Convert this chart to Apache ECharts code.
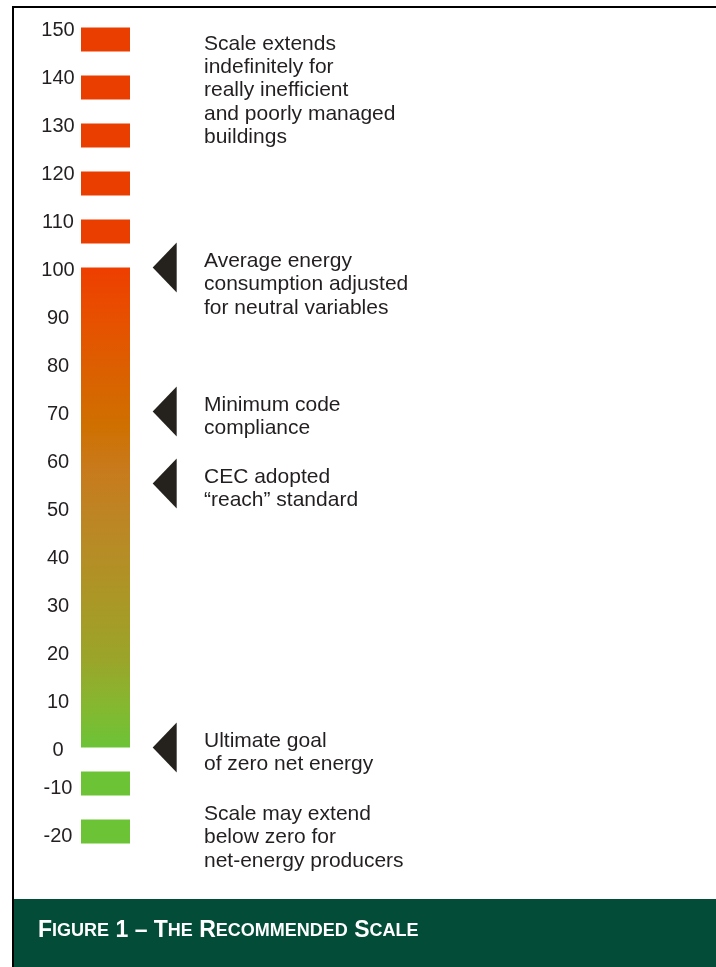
<!DOCTYPE html>
<html>
<head>
<meta charset="utf-8">
<script src="https://cdn.jsdelivr.net/npm/echarts@6/dist/echarts.min.js"></script>
<style>
html,body{margin:0;padding:0;background:#fff;}
#chart{width:716px;height:967px;}
</style>
</head>
<body>
<div id="chart"></div>
<script>
// ---- data ----
const tickValues = [150, 140, 130, 120, 110, 100, 90, 80, 70, 60, 50, 40, 30, 20, 10, 0, -10, -20];
const segmentHigh = [150, 140, 130, 120, 110, 100, -5, -15];
const segmentLow  = [145, 135, 125, 115, 105, 0, -10, -20];
const markerValues = [100, 70, 55, 0];
const markerNotes = [
  "Average energy\nconsumption adjusted\nfor neutral variables",
  "Minimum code\ncompliance",
  "CEC adopted\n\u201creach\u201d standard",
  "Ultimate goal\nof zero net energy"
];
const topNote = "Scale extends\nindefinitely for\nreally inefficient\nand poorly managed\nbuildings";
const bottomNote = "Scale may extend\nbelow zero for\nnet-energy producers";
const figureTitleParts = [["F","IGURE"],["1 \u2013",""],["T","HE"],["R","ECOMMENDED"],["S","CALE"]];

// ---- chart ----
const FONT = '"Liberation Sans", Arial, Helvetica, sans-serif';
const TEXT = '#231f20';
const chart = echarts.init(document.getElementById('chart'), null, {renderer: 'canvas'});

const gradient = new echarts.graphic.LinearGradient(0, 0, 0, 1, [
  {offset: 0, color: '#ee3e00'},
  {offset: 0.12, color: '#e65200'},
  {offset: 0.33, color: '#cf7000'},
  {offset: 0.42, color: '#c87a1c'},
  {offset: 0.52, color: '#bd8524'},
  {offset: 0.62, color: '#b38f26'},
  {offset: 0.72, color: '#a79a26'},
  {offset: 0.82, color: '#9aa52a'},
  {offset: 0.91, color: '#86b730'},
  {offset: 1, color: '#6cc337'}
]);

function segColor(lo, hi) {
  if (hi <= 0) return '#6cc335';
  if (lo >= 100) return '#ea3e00';
  return gradient;
}

const titleRich = figureTitleParts.map(p => '{b|' + p[0] + '}' + (p[1] ? '{s|' + p[1] + '}' : '')).join('{b| }');

const option = {
  animation: false,
  backgroundColor: '#ffffff',
  grid: {left: 81, width: 49, top: 3.5, height: 864, containLabel: false, outerBoundsMode: 'none'},
  xAxis: {type: 'value', min: 0, max: 1, show: false},
  yAxis: {
    type: 'value', min: -25, max: 155,
    axisLine: {show: false}, axisTick: {show: false}, splitLine: {show: false},
    axisLabel: {
      customValues: tickValues,
      align: 'center',
      margin: 23,
      fontSize: 20, color: TEXT, fontFamily: FONT,
      formatter: v => (v < 0 ? '{n|' + v + '}' : '{p|' + v + '}'),
      rich: {
        p: {fontSize: 20, color: TEXT, fontFamily: FONT, padding: [5, 0, 0, 0]},
        n: {fontSize: 20, color: TEXT, fontFamily: FONT, padding: [0, 0, 15, 0]}
      }
    }
  },
  series: [
    {
      type: 'custom',
      coordinateSystem: 'cartesian2d',
      encode: {x: 0, y: [1, 2]},
      data: segmentHigh.map((h, i) => [0, segmentLow[i], h]),
      renderItem: (params, api) => {
        const lo = api.value(1), hi = api.value(2);
        const a = api.coord([0, hi]);
        const b = api.coord([1, lo]);
        return {
          type: 'rect',
          shape: {x: a[0], y: a[1], width: b[0] - a[0], height: b[1] - a[1]},
          style: {fill: segColor(lo, hi)}
        };
      }
    },
    {
      type: 'custom',
      coordinateSystem: 'cartesian2d',
      clip: false,
      encode: {x: 0, y: 1},
      data: markerValues.map(v => [1, v]),
      renderItem: (params, api) => {
        const p = api.coord([1, api.value(1)]);
        const x = p[0], y = p[1];
        return {
          type: 'group',
          children: [
            {
              type: 'polygon',
              shape: {points: [[x + 22.7, y], [x + 46.7, y - 25], [x + 46.7, y + 25]]},
              style: {fill: '#25221e'}
            },
            {
              type: 'text',
              x: x + 74, y: y - 18,
              style: {
                text: markerNotes[params.dataIndex],
                fill: TEXT, fontSize: 21, fontFamily: FONT,
                lineHeight: 23.3, align: 'left', verticalAlign: 'top'
              }
            }
          ]
        };
      }
    }
  ],
  graphic: [
    {type: 'rect', z: 1, shape: {x: 14, y: 899, width: 702, height: 68}, style: {fill: '#034c37'}},
    {type: 'line', z: 2, shape: {x1: 12, y1: 7, x2: 716, y2: 7}, style: {stroke: '#000', lineWidth: 2}},
    {type: 'line', z: 2, shape: {x1: 13, y1: 6, x2: 13, y2: 967}, style: {stroke: '#000', lineWidth: 2}},
    {
      type: 'text', z: 3, x: 204, y: 32.2,
      style: {text: topNote, fill: TEXT, fontSize: 21, fontFamily: FONT, lineHeight: 23.3, align: 'left', verticalAlign: 'top'}
    },
    {
      type: 'text', z: 3, x: 204, y: 802.5,
      style: {text: bottomNote, fill: TEXT, fontSize: 21, fontFamily: FONT, lineHeight: 23.3, align: 'left', verticalAlign: 'top'}
    },
    {
      type: 'text', z: 3, x: 38, y: 931,
      style: {
        text: titleRich, fill: '#ffffff', align: 'left', verticalAlign: 'middle',
        rich: {
          b: {fontSize: 23, fontWeight: 'bold', fontFamily: FONT, fill: '#ffffff', color: '#ffffff'},
          s: {fontSize: 18, fontWeight: 'bold', fontFamily: FONT, fill: '#ffffff', color: '#ffffff'}
        }
      }
    }
  ]
};
chart.setOption(option);
</script>
</body>
</html>
